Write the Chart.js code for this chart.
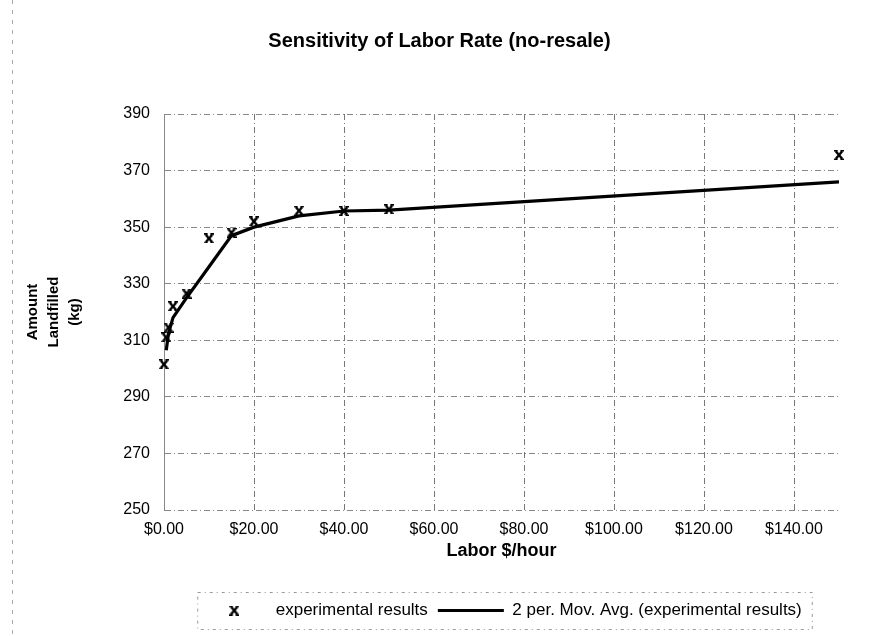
<!DOCTYPE html>
<html>
<head>
<meta charset="utf-8">
<script src="https://cdn.jsdelivr.net/npm/chart.js@4.4.1/dist/chart.umd.min.js"></script>
<style>
  html, body { margin: 0; padding: 0; background: #fff; }
</style>
</head>
<body>
<canvas id="chart" width="879" height="636"></canvas>
<script>
// datos
const laborRates = [0, 0.5, 1, 2, 5, 10, 15, 20, 30, 40, 50, 150];
const amountLandfilled = [301.5, 311, 314.5, 322, 326.5, 346, 348, 352, 355.8, 355.7, 356.3, 375.5];

// media móvil de 2 periodos, tal como se ve en la línea
const movAvgRates = [0.5, 1, 2, 5, 10, 15, 20, 30, 40, 50, 150];
const movAvgValues = [306.5, 312.5, 318, 325, 336, 347, 350, 354, 355.7, 356, 366];

const chartTitle = "Sensitivity of Labor Rate (no-resale)";
const xTitle = "Labor $/hour";
const yTitle = ["Amount", "Landfilled", "(kg)"];
const seriesNames = ["experimental results", "2 per. Mov. Avg. (experimental results)"];

Chart.defaults.font.family = "'Liberation Sans', Arial, sans-serif";
Chart.defaults.color = "#000";

// marcador tipo "x" de Excel
function makeMarker(w, h) {
  const c = document.createElement("canvas");
  c.width = w;
  c.height = h;
  const g = c.getContext("2d");
  g.strokeStyle = "#000";
  g.lineWidth = 2.4;
  g.beginPath();
  g.moveTo(1.8, 1.2);
  g.lineTo(w - 1.8, h - 1.2);
  g.moveTo(w - 1.8, 1.2);
  g.lineTo(1.8, h - 1.2);
  g.stroke();
  g.lineWidth = 1.6;
  g.beginPath();
  g.moveTo(0, 0.8);
  g.lineTo(3.6, 0.8);
  g.moveTo(w - 3.6, 0.8);
  g.lineTo(w, 0.8);
  g.moveTo(0, h - 0.8);
  g.lineTo(3.6, h - 0.8);
  g.moveTo(w - 3.6, h - 0.8);
  g.lineTo(w, h - 0.8);
  g.stroke();
  return c;
}
const marker = makeMarker(10, 10);

const gridDash = [6, 3, 1, 3];

// borde punteado de la leyenda y del marco
const framePlugin = {
  id: "frame",
  beforeDraw(chart) {
    const ctx = chart.ctx;
    ctx.save();
    ctx.strokeStyle = "#aaa";
    ctx.lineWidth = 1;
    ctx.setLineDash([4, 6]);
    ctx.beginPath();
    ctx.moveTo(12.5, 0);
    ctx.lineTo(12.5, chart.height);
    ctx.stroke();
    ctx.restore();
  },
  afterDraw(chart) {
    const boxes = chart.legend.legendHitBoxes;
    if (!boxes.length) return;
    const left = Math.min(...boxes.map(b => b.left)) - 4;
    const right = Math.max(...boxes.map(b => b.left + b.width)) + 10;
    const top = Math.min(...boxes.map(b => b.top)) - 10;
    const bottom = Math.max(...boxes.map(b => b.top + b.height)) + 10;
    const ctx = chart.ctx;
    ctx.save();
    ctx.strokeStyle = "#999";
    ctx.lineWidth = 1;
    ctx.setLineDash([3, 4, 1, 4]);
    ctx.strokeRect(left + 0.5, top + 0.5, right - left, bottom - top);
    ctx.restore();
  }
};

new Chart(document.getElementById("chart"), {
  type: "scatter",
  data: {
    datasets: [
      {
        label: seriesNames[0],
        data: laborRates.map((x, i) => ({ x: x, y: amountLandfilled[i] })),
        pointStyle: marker,
        pointRadius: 4,
        showLine: false,
        borderColor: "#000",
        backgroundColor: "#000",
        clip: false
      },
      {
        label: seriesNames[1],
        data: movAvgRates.map((x, i) => ({ x: x, y: movAvgValues[i] })),
        showLine: true,
        pointRadius: 0,
        pointStyle: "line",
        borderColor: "#000",
        backgroundColor: "#000",
        borderWidth: 3.2,
        tension: 0
      }
    ]
  },
  options: {
    responsive: false,
    animation: false,
    devicePixelRatio: 1,
    layout: { padding: { left: 10, right: 10, top: 0, bottom: 7 } },
    plugins: {
      title: {
        display: true,
        text: chartTitle,
        font: { size: 20, weight: "bold" },
        color: "#000",
        padding: { top: 29, bottom: 61 }
      },
      legend: {
        position: "bottom",
        fullSize: false,
        labels: {
          usePointStyle: true,
          pointStyleWidth: 66,
          font: { size: 17 },
          color: "#000",
          padding: 10
        }
      },
      tooltip: { enabled: false }
    },
    scales: {
      x: {
        type: "linear",
        min: 0,
        max: 150,
        afterFit(scale) { scale.height = 82; },
        ticks: {
          stepSize: 20,
          includeBounds: false,
          maxRotation: 0,
          padding: 10,
          font: { size: 16 },
          color: "#000",
          callback: v => "$" + v.toFixed(2)
        },
        grid: { color: "#777", lineWidth: 1, drawTicks: false },
        border: { display: false, dash: gridDash },
        title: {
          display: true,
          text: xTitle,
          font: { size: 18, weight: "bold" },
          color: "#000",
          padding: { top: 0, bottom: 30 }
        }
      },
      y: {
        min: 250,
        max: 390,
        afterFit(scale) { scale.width = 154; },
        ticks: {
          stepSize: 20,
          padding: 14,
          font: { size: 16 },
          color: "#000"
        },
        grid: { color: "#888", lineWidth: 1, drawTicks: false },
        border: { display: true, color: "#888", width: 1, dash: gridDash },
        title: {
          display: true,
          text: yTitle,
          font: { size: 15, weight: "bold", lineHeight: 1.4 },
          color: "#000",
          padding: { top: 12, bottom: 0 }
        }
      },
      // eje vacío a la derecha para dejar el margen del área de trazado
      yRight: {
        type: "linear",
        position: "right",
        min: 250,
        max: 390,
        afterFit(scale) { scale.width = 30; },
        ticks: { display: false },
        grid: { display: false, drawOnChartArea: false },
        border: { display: false }
      }
    }
  },
  plugins: [framePlugin]
});
</script>
</body>
</html>
